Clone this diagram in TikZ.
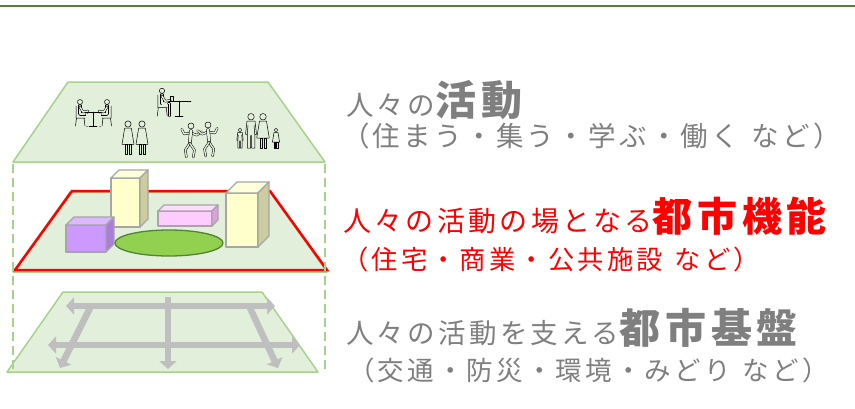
\documentclass[tikz,border=0pt]{standalone}
\usepackage{fontspec}
\newfontfamily\jp[LetterSpace=12]{Noto Sans CJK JP}
\usetikzlibrary{arrows.meta}

\definecolor{rulegreen}{RGB}{84,130,53}
\definecolor{planefill}{RGB}{226,239,218}
\definecolor{planeline}{RGB}{169,209,142}
\definecolor{txtgray}{RGB}{127,127,127}
\definecolor{roadgray}{RGB}{191,191,191}
\definecolor{boxline}{RGB}{166,166,166}
\definecolor{bldyellow}{RGB}{255,255,204}
\definecolor{bldside}{RGB}{204,204,160}
\definecolor{bldpurple}{RGB}{204,153,255}
\definecolor{purpleside}{RGB}{170,125,214}
\definecolor{bldpink}{RGB}{255,204,255}
\definecolor{pinkside}{RGB}{220,160,220}
\definecolor{parkgreen}{RGB}{146,208,80}

% building: x, y (front top left), width, height, depth, front, side
\newcommand{\bld}[7]{%
  \filldraw[bldface, fill=#6] (#1,#2) rectangle (#1+#3,#2+#4);
  \filldraw[bldface, fill=#6!70!white] (#1,#2) -- (#1+#5,#2-#5) -- (#1+#3+#5,#2-#5) -- (#1+#3,#2) -- cycle;
  \filldraw[bldface, fill=#7] (#1+#3,#2) -- (#1+#3+#5,#2-#5) -- (#1+#3+#5,#2+#4-#5) -- (#1+#3,#2+#4) -- cycle;
}
\newcommand{\gap}{\hspace{0.45em}}

\begin{document}
\begin{tikzpicture}[x=1pt, y=-1pt,
  plane/.style={fill=planefill, draw=planeline, line width=1.5pt, line join=round},
  guide/.style={draw=planeline, line width=1.8pt, dash pattern=on 9pt off 5pt},
  road/.style={draw=roadgray, line width=6.5pt},
  rtip/.tip={Triangle[length=8pt,width=17pt]},
  bldface/.style={draw=boxline, line width=1.3pt, line join=round},
  park/.style={fill=parkgreen, draw=rulegreen, line width=1.3pt},
  fig/.style={draw=black, line width=0.5pt, line join=round, line cap=round},
  limb/.style={fig, double=planefill, double distance=1.4pt},
  lbl/.style={anchor=base west, inner sep=0pt, text=txtgray, font=\jp},
  man/.pic={
    \draw[fig] (0,-25) circle (2.6);
    \draw[fig] (-3.2,-21.5) -- (3.2,-21.5) -- (4.4,-11) -- (3,-11) -- (3,0) -- (0.4,0)
      -- (0.4,-10) -- (-0.4,-10) -- (-0.4,0) -- (-3,0) -- (-3,-11) -- (-4.4,-11) -- cycle;
    \draw[fig] (-2.4,-18) -- (-3,-11) (2.4,-18) -- (3,-11);
  },
  woman/.pic={
    \draw[fig] (0,-25) circle (2.6);
    \draw[fig] (-2.8,-21.5) -- (2.8,-21.5) -- (5,-8) -- (-5,-8) -- cycle;
    \draw[fig] (-2.6,-8) rectangle (-0.8,0) (0.8,-8) rectangle (2.6,0);
  },
  seated/.pic={
    \draw[fig] (0,-24) circle (2.5);
    \draw[fig] (-4,-20) -- (-4,-8) -- (5,-8) (-3.5,-8) -- (-4.5,0) (4,-8) -- (5,0);
    \draw[limb, double distance=2.8pt] (0,-20) -- (0,-12) -- (6,-12);
    \draw[limb] (6,-12) -- (7,-12) -- (7,0);
    \draw[limb] (0,-19) -- (3,-14) -- (8,-15);
  },
  dancer/.pic={
    \draw[fig] (0,-27) circle (2.6);
    \draw[limb] (-8,-24) -- (-6,-20) -- (0,-21) -- (5,-19) -- (9,-22);
    \draw[limb, double distance=2.6pt] (0,-23) -- (-1,-12);
    \draw[limb] (-1,-12) -- (-5,-6) -- (-4,0);
    \draw[limb] (-1,-12) -- (3,-6) -- (2,0);
  }
]
\useasboundingbox (0,0) rectangle (855,408);

% header rule
\draw[rulegreen, line width=2.5pt] (0,6) -- (855,6);

% top layer: activities
\filldraw[plane] (68,82) -- (268,82) -- (325,162) -- (13,162) -- cycle;

% meeting at a table
\pic[scale=1.0] at (80,126) {seated};
\pic[xscale=-1.0, yscale=1.0] at (107,126) {seated};
\draw[fig] (85,112) -- (101,112) (93,112) -- (93,126) (89,126) -- (97,126);

% working at a desk
\pic[scale=1.05] at (162,116) {seated};
\draw[fig] (169,101) -- (191,101) (179,101) -- (179,116) (175,116) -- (183,116);
\draw[fig] (170,96) rectangle (173,101);

% two women
\pic[scale=1.2] at (128,154) {woman};
\pic[scale=1.2] at (142,154) {woman};

% dancers
\pic[scale=1.15] at (191,157) {dancer};
\pic[xscale=-1.15, yscale=1.15] at (208,156) {dancer};

% family
\pic[scale=0.72] at (240,148) {man};
\pic[scale=1.25] at (251,148) {man};
\pic[scale=1.25] at (263,148) {woman};
\pic[scale=0.72] at (276,148) {woman};

% middle layer: urban functions
\filldraw[plane] (70,192) -- (270,192) -- (327,272) -- (13,272) -- cycle;
\draw[red, line width=2.5pt, line join=miter] (72,191) -- (270,191) -- (327,270) -- (15,270) -- cycle;
\bld{111}{178}{29}{49}{8}{bldyellow}{bldside}
\bld{66}{225}{40}{27}{8}{bldpurple}{purpleside}
\bld{158}{211}{54}{15}{6}{bldpink}{pinkside}
\bld{226}{193}{32}{54}{11}{bldyellow}{bldside}
\draw[park] (169,243) ellipse [x radius=54, y radius=13];

% bottom layer: infrastructure
\filldraw[plane] (63,292) -- (262,292) -- (318,372) -- (7,372) -- cycle;
\draw[road, rtip-rtip] (66,306) -- (275,306);
\draw[road, rtip-rtip] (48,345) -- (300,345);
\draw[road, -rtip] (168,297) -- (168,369);
\draw[road, -rtip] (90,308) -- (60,368);
\draw[road, -rtip] (250,308) -- (278,368);

% dashed guides between the layers
\draw[guide] (13,164) -- (13,373);
\draw[guide] (325,164) -- (325,373);

% labels
\node[lbl] (act) at (346,115) {\fontsize{27.5}{27.5}\selectfont 人々の\fontsize{41}{41}\selectfont\bfseries 活動};
\node[lbl] (actsub) at (342,146) {\fontsize{27.5}{27.5}\selectfont （住まう・集う・学ぶ・働く\gap など）};
\node[lbl, text=red] (fun) at (343,231) {\fontsize{28}{28}\selectfont 人々の活動の場となる\fontsize{40}{40}\selectfont\bfseries 都市機能};
\node[lbl, text=red] (funsub) at (342,269) {\fontsize{26.3}{26.3}\selectfont （住宅・商業・公共施設\gap など）};
\node[lbl] (base) at (346,343) {\fontsize{27.5}{27.5}\selectfont 人々の活動を支える\fontsize{41}{41}\selectfont\bfseries 都市基盤};
\node[lbl] (basesub) at (348,380) {\fontsize{26.5}{26.5}\selectfont （交通・防災・環境・みどり\gap など）};
\end{tikzpicture}
\end{document}
